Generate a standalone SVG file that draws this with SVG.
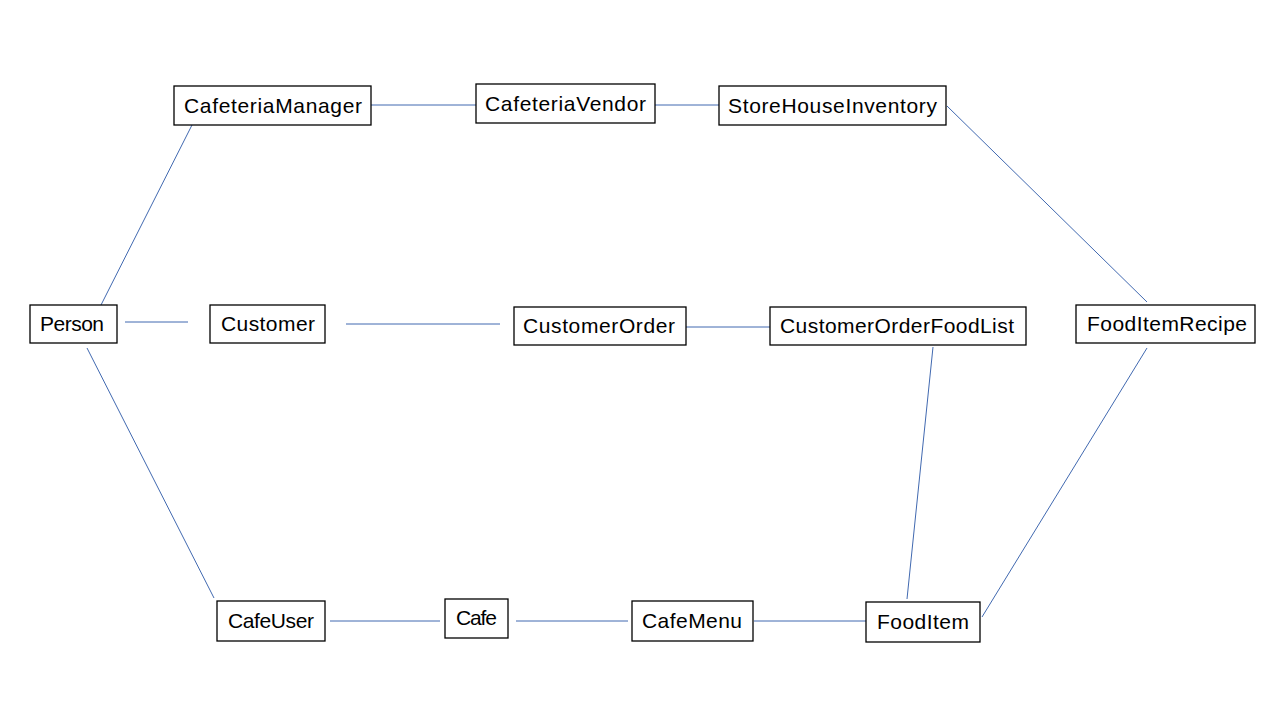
<svg xmlns="http://www.w3.org/2000/svg" width="1280" height="720" viewBox="0 0 1280 720">
<style>
.box{fill:#fff;stroke:#000;stroke-width:1.3}
.lbl{font-family:"Liberation Sans",Arial,sans-serif;font-size:21px;fill:#000}
.conn{stroke:#4169B0;stroke-width:1;fill:none}
</style>
<rect width="1280" height="720" fill="#fff"/>
<g id="connectors">
<line class="conn" x1="371" y1="105" x2="476" y2="105"/>
<line class="conn" x1="655" y1="105" x2="719" y2="105"/>
<line class="conn" x1="947" y1="106" x2="1147" y2="302"/>
<line class="conn" x1="192" y1="125" x2="101" y2="305"/>
<line class="conn" x1="125" y1="322" x2="188" y2="322"/>
<line class="conn" x1="346" y1="324" x2="500" y2="324"/>
<line class="conn" x1="686" y1="327" x2="770" y2="327"/>
<line class="conn" x1="933" y1="347" x2="907" y2="599"/>
<line class="conn" x1="1147" y1="348" x2="982" y2="617"/>
<line class="conn" x1="87" y1="348" x2="214" y2="598"/>
<line class="conn" x1="330" y1="621" x2="440" y2="621"/>
<line class="conn" x1="516" y1="621" x2="628" y2="621"/>
<line class="conn" x1="754" y1="621" x2="866" y2="621"/>
</g>
<g id="CafeteriaManager"><rect class="box" x="174" y="86" width="197" height="39"/><text class="lbl" x="184" y="113" textLength="178">CafeteriaManager</text></g>
<g id="CafeteriaVendor"><rect class="box" x="476" y="84" width="179" height="39"/><text class="lbl" x="485" y="111" textLength="161">CafeteriaVendor</text></g>
<g id="StoreHouseInventory"><rect class="box" x="719" y="86" width="227" height="39"/><text class="lbl" x="728" y="113" textLength="209">StoreHouseInventory</text></g>
<g id="Person"><rect class="box" x="30" y="305" width="87" height="38"/><text class="lbl" x="40" y="331" textLength="64">Person</text></g>
<g id="Customer"><rect class="box" x="210" y="305" width="115" height="38"/><text class="lbl" x="221" y="331" textLength="94">Customer</text></g>
<g id="CustomerOrder"><rect class="box" x="514" y="307" width="172" height="38"/><text class="lbl" x="523" y="333" textLength="152">CustomerOrder</text></g>
<g id="CustomerOrderFoodList"><rect class="box" x="770" y="307" width="256" height="38"/><text class="lbl" x="780" y="333" textLength="234">CustomerOrderFoodList</text></g>
<g id="FoodItemRecipe"><rect class="box" x="1076" y="305" width="179" height="38"/><text class="lbl" x="1087" y="331" textLength="160">FoodItemRecipe</text></g>
<g id="CafeUser"><rect class="box" x="217" y="601" width="108" height="40"/><text class="lbl" x="228" y="628" textLength="86">CafeUser</text></g>
<g id="Cafe"><rect class="box" x="445" y="599" width="63" height="39"/><text class="lbl" x="456" y="625" textLength="41">Cafe</text></g>
<g id="CafeMenu"><rect class="box" x="632" y="601" width="121" height="40"/><text class="lbl" x="642" y="628" textLength="100">CafeMenu</text></g>
<g id="FoodItem"><rect class="box" x="866" y="602" width="114" height="40"/><text class="lbl" x="877" y="629" textLength="92">FoodItem</text></g>
</svg>
